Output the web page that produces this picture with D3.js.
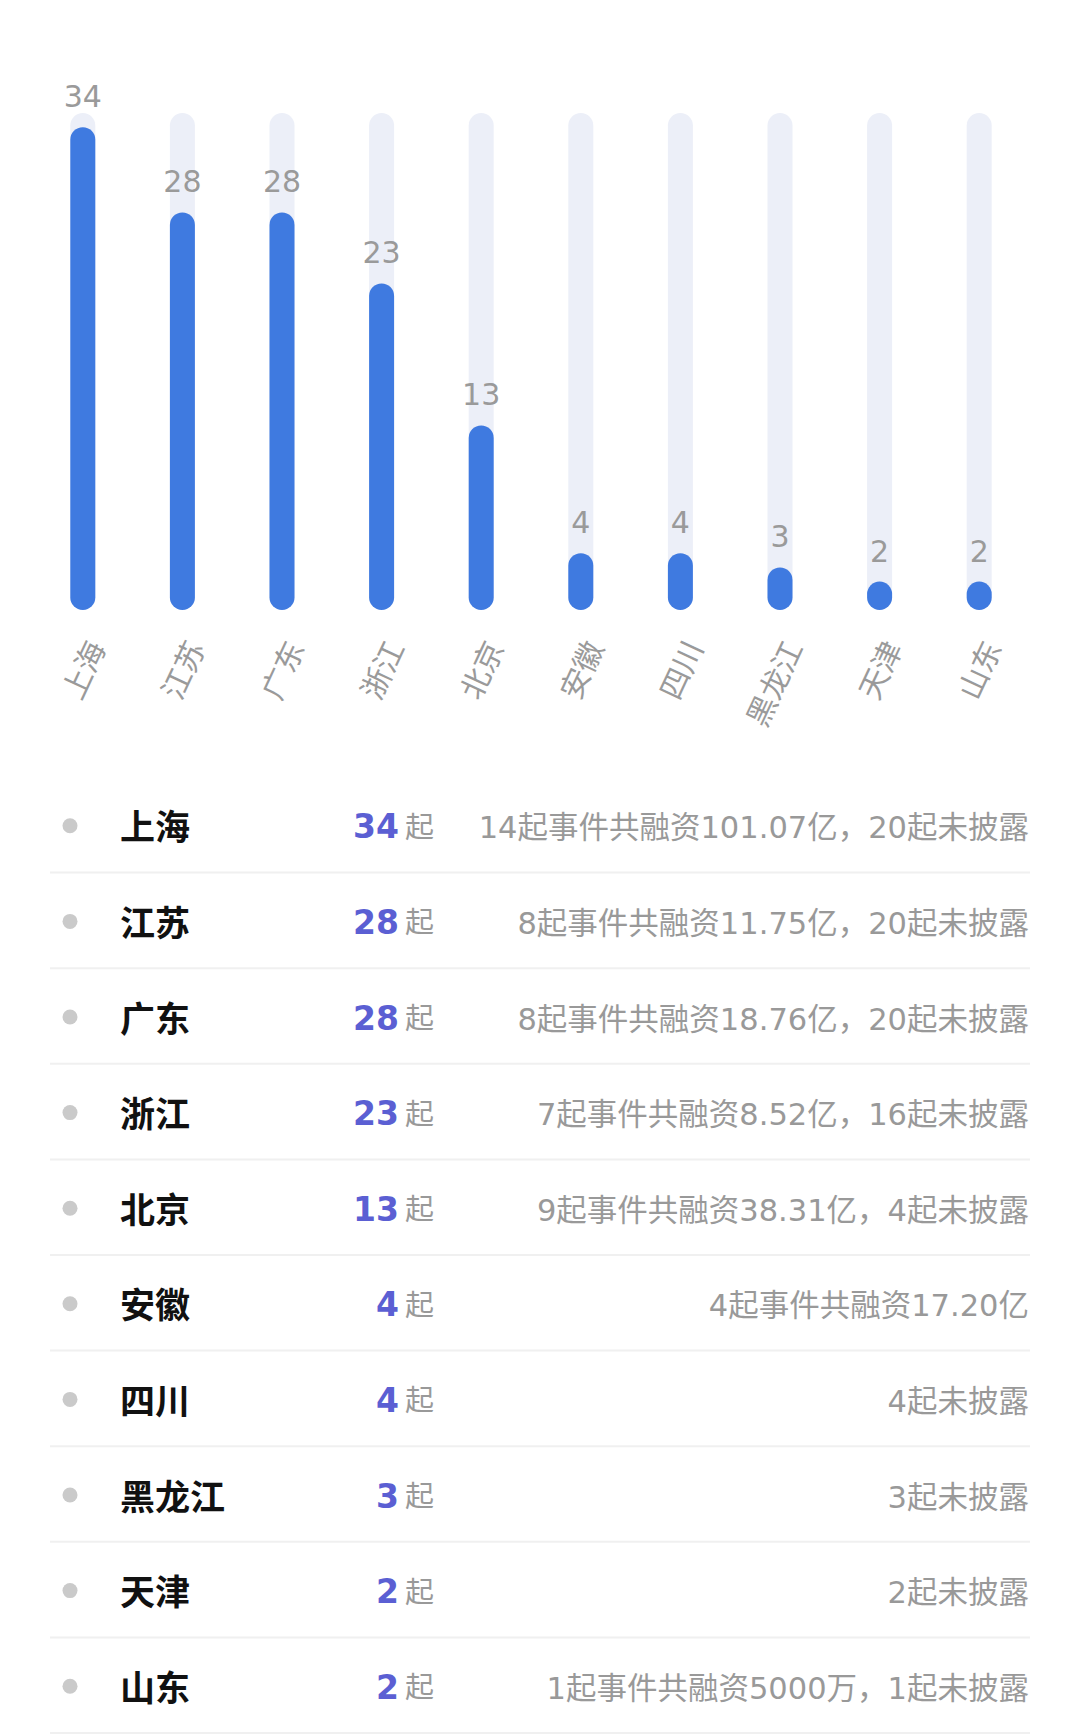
<!DOCTYPE html>
<html>
<head>
<meta charset="utf-8">
<script src="https://cdn.jsdelivr.net/npm/d3@7"></script>
<style>
  body { margin: 0; background: #fff; }
  svg { display: block; }
</style>
</head>
<body>
<div id="chart"></div>
<script>
// data
var provinces = ["上海", "江苏", "广东", "浙江", "北京", "安徽", "四川", "黑龙江", "天津", "山东"];
var counts = [34, 28, 28, 23, 13, 4, 4, 3, 2, 2];
var details = [
  "14起事件共融资101.07亿，20起未披露",
  "8起事件共融资11.75亿，20起未披露",
  "8起事件共融资18.76亿，20起未披露",
  "7起事件共融资8.52亿，16起未披露",
  "9起事件共融资38.31亿，4起未披露",
  "4起事件共融资17.20亿",
  "4起未披露",
  "3起未披露",
  "2起未披露",
  "1起事件共融资5000万，1起未披露"
];
var yMax = 35;

var width = 1080,
    height = 1735;

var font = "'DejaVu Sans', 'Noto Sans CJK SC', sans-serif";

var svg = d3.select("#chart").append("svg")
    .attr("width", width)
    .attr("height", height);

var data = provinces.map(function(p, i) { return {name: p, value: counts[i], detail: details[i]}; });

// bar chart
var x = d3.scaleBand()
    .domain(provinces)
    .range([33, 1029]);

var y = d3.scaleLinear()
    .domain([0, yMax])
    .range([610, 113]);

var barW = 25;

var bars = svg.append("g");

// background tracks
bars.selectAll("rect.bg")
  .data(data)
  .enter()
  .append("rect")
    .attr("class", "bg")
    .attr("x", function(d) { return x(d.name) + x.bandwidth() / 2 - barW / 2; })
    .attr("y", y(yMax))
    .attr("width", barW)
    .attr("height", y(0) - y(yMax))
    .attr("rx", barW / 2)
    .attr("fill", "#eceff8");

// value bars
bars.selectAll("rect.val")
  .data(data)
  .enter()
  .append("rect")
    .attr("class", "val")
    .attr("x", function(d) { return x(d.name) + x.bandwidth() / 2 - barW / 2; })
    .attr("y", function(d) { return y(d.value); })
    .attr("width", barW)
    .attr("height", function(d) { return y(0) - y(d.value); })
    .attr("rx", barW / 2)
    .attr("fill", "#3f7ae0");

// value labels
bars.selectAll("text.lbl")
  .data(data)
  .enter()
  .append("text")
    .attr("class", "lbl")
    .attr("x", function(d) { return x(d.name) + x.bandwidth() / 2; })
    .attr("y", function(d) { return y(d.value) - 20; })
    .attr("text-anchor", "middle")
    .style("font-family", font)
    .style("font-size", "30px")
    .style("fill", "#9a9a9a")
    .text(function(d) { return d.value; });

// x axis labels, rotated
bars.selectAll("text.xl")
  .data(data)
  .enter()
  .append("text")
    .attr("class", "xl")
    .attr("transform", function(d) {
      return "translate(" + (x(d.name) + x.bandwidth() / 2 + 14) + ",643) rotate(-65)";
    })
    .attr("text-anchor", "end")
    .attr("dominant-baseline", "central")
    .style("font-family", font)
    .style("font-size", "30px")
    .style("fill", "#9a9a9a")
    .text(function(d) { return d.name; });

// table
var row = d3.scaleBand()
    .domain(provinces)
    .range([778, 1734]);

var rows = svg.append("g").selectAll("g")
  .data(data)
  .enter()
  .append("g")
    .attr("transform", function(d) { return "translate(0," + (row(d.name) + row.bandwidth() / 2) + ")"; });

rows.append("line")
    .attr("x1", 50)
    .attr("x2", 1030)
    .attr("y1", row.bandwidth() / 2 - 1)
    .attr("y2", row.bandwidth() / 2 - 1)
    .attr("stroke", "#f0f0f0")
    .attr("stroke-width", 2);

rows.append("circle")
    .attr("cx", 70)
    .attr("cy", 0)
    .attr("r", 7.5)
    .attr("fill", "#cacaca");

rows.append("text")
    .attr("x", 120)
    .attr("y", -1)
    .attr("dominant-baseline", "central")
    .style("font-family", "'Noto Sans CJK SC', sans-serif")
    .style("font-weight", "bold")
    .style("font-size", "35px")
    .style("fill", "#111")
    .text(function(d) { return d.name; });

rows.append("text")
    .attr("x", 399)
    .attr("y", 1)
    .attr("text-anchor", "end")
    .attr("dominant-baseline", "central")
    .style("font-family", font)
    .style("font-weight", "bold")
    .style("font-size", "33px")
    .style("fill", "#5b5fd3")
    .text(function(d) { return d.value; });

rows.append("text")
    .attr("x", 405)
    .attr("y", 2)
    .attr("dominant-baseline", "central")
    .style("font-family", font)
    .style("font-size", "29px")
    .style("fill", "#999")
    .text("起");

rows.append("text")
    .attr("x", 1029)
    .attr("y", 2)
    .attr("text-anchor", "end")
    .attr("dominant-baseline", "central")
    .style("font-family", font)
    .style("font-size", "30.5px")
    .style("fill", "#999")
    .text(function(d) { return d.detail; });
</script>
</body>
</html>
